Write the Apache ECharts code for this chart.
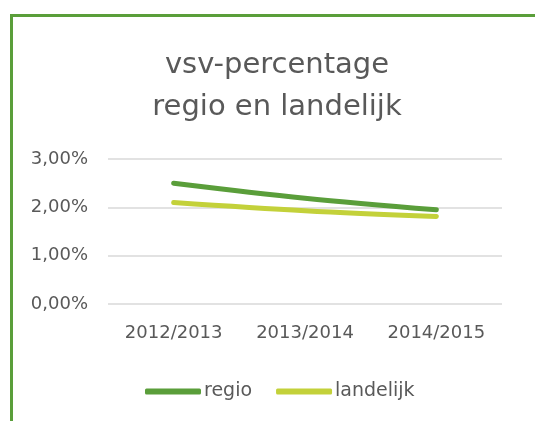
<!DOCTYPE html>
<html>
<head>
<meta charset="utf-8">
<script src="https://cdn.jsdelivr.net/npm/echarts@6/dist/echarts.min.js"></script>
<style>
  html, body { margin: 0; padding: 0; background: #fff; }
  #chart { width: 535px; height: 421px; }
</style>
</head>
<body>
<div id="chart"></div>
<script>
// schooljaren
var categories = ["2012/2013", "2013/2014", "2014/2015"];
// vsv-percentage in %
var regio = [2.5, 2.19, 1.95];
var landelijk = [2.1, 1.93, 1.81];
var yTicks = [0, 1, 2, 3];

var chart = echarts.init(document.getElementById("chart"));
chart.setOption({
  animation: false,
  textStyle: { fontFamily: "DejaVu Sans" },
  title: {
    text: "vsv-percentage\nregio en landelijk",
    left: 272,
    textAlign: "center",
    top: 39,
    textStyle: { fontSize: 29, fontWeight: "normal", color: "#595959", lineHeight: 42 }
  },
  graphic: [
    {
      type: "rect",
      shape: { x: 11.5, y: 15.5, width: 600, height: 600 },
      style: { fill: null, stroke: "#5a9e3a", lineWidth: 3 }
    }
  ],
  legend: {
    top: 377,
    left: 140,
    itemWidth: 56,
    itemHeight: 6,
    itemGap: 24,
    icon: "roundRect",
    textStyle: { fontSize: 19, color: "#595959", padding: [0, 0, 0, -2] },
    data: ["regio", "landelijk"]
  },
  grid: { left: 108, right: 33, top: 159, bottom: 117 },
  xAxis: {
    type: "category",
    data: categories,
    axisLine: { show: false },
    axisTick: { show: false },
    axisLabel: { fontSize: 18, color: "#595959", margin: 20, interval: 0 }
  },
  yAxis: {
    type: "value",
    min: yTicks[0],
    max: yTicks[yTicks.length - 1],
    interval: 1,
    axisLabel: {
      fontSize: 18,
      color: "#595959",
      margin: 20,
      formatter: function (v) { return v.toFixed(2).replace(".", ",") + "%"; }
    },
    splitLine: { lineStyle: { color: "#d9d9d9", width: 1.5 } }
  },
  series: [
    {
      name: "regio",
      type: "line",
      data: regio,
      smooth: 0.35,
      symbol: "none",
      lineStyle: { width: 5, color: "#5a9e3a", cap: "round" },
      itemStyle: { color: "#5a9e3a" }
    },
    {
      name: "landelijk",
      type: "line",
      data: landelijk,
      smooth: 0.35,
      symbol: "none",
      lineStyle: { width: 5, color: "#c3d13a", cap: "round" },
      itemStyle: { color: "#c3d13a" }
    }
  ]
});
</script>
</body>
</html>
